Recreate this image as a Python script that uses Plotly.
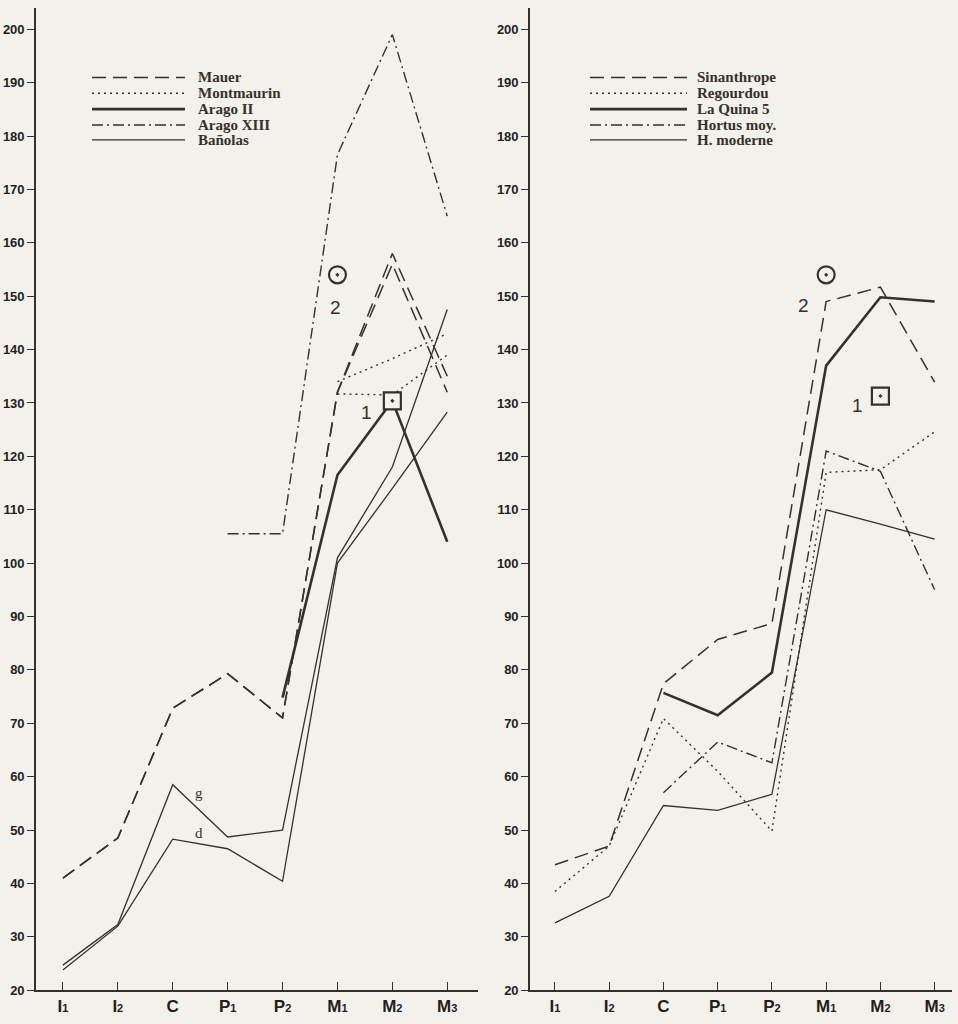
import plotly.graph_objects as go

# Tooth positions along the row
teeth = ["I1", "I2", "C", "P1", "P2", "M1", "M2", "M3"]
tooth_labels = ["I<span style='font-size:11px'>1</span>", "I<span style='font-size:11px'>2</span>",
                "C", "P<span style='font-size:11px'>1</span>", "P<span style='font-size:11px'>2</span>",
                "M<span style='font-size:11px'>1</span>", "M<span style='font-size:11px'>2</span>",
                "M<span style='font-size:11px'>3</span>"]
y_ticks = list(range(20, 201, 10))

# Left panel: Middle Pleistocene mandibles (g = left side, d = right side)
mauer_g = [41, 48.5, 72.8, 79.3, 71, 132, 158, 135]
mauer_d = [41, 48.5, 72.8, 79.3, 71, 132, 156, 132]
montmaurin_g = [None, None, None, None, None, 134, 138.3, 143]
montmaurin_d = [None, None, None, None, None, 131.7, 131.5, 139]
arago_ii = [None, None, None, None, 74.8, 116.5, 130.4, 104]
arago_xiii = [None, None, None, 105.5, 105.5, 176.5, 199, 165]
banolas_g = [24.7, 32.3, 58.5, 48.7, 50, 101, 118, 147.5]
banolas_d = [23.8, 32, 48.3, 46.5, 40.4, 100, 114, 128.3]

# Right panel
sinanthrope = [43.5, 47, 77.4, 85.7, 88.7, 149, 151.7, 133.9]
regourdou = [38.5, 47, 70.9, 61, 49.8, 117, 117.5, 124.6]
la_quina_5 = [None, None, 75.7, 71.5, 79.5, 137, 149.8, 149]
hortus_moy = [None, None, 57, 66.5, 62.6, 121, 117.2, 95]
h_moderne = [32.6, 37.6, 54.6, 53.7, 56.7, 110, 107.3, 104.5]

# Reference points 1 (square) and 2 (circle): tooth index, value
ref_left = {"1": (6, 130.4), "2": (5, 154)}
ref_right = {"1": (6, 131.3), "2": (5, 154)}

INK = "#35302d"
PAPER = "#f3f1eb"
W, H = 958, 1024

DASH = "14px,7px"
DOT = "2px,4px"
DASHDOT = "11px,4px,2px,4px"

styles = {
    "dash": dict(width=1.5, dash=DASH),
    "dot": dict(width=1.4, dash=DOT),
    "thick": dict(width=2.6, dash="solid"),
    "dashdot": dict(width=1.4, dash=DASHDOT),
    "thin": dict(width=1.3, dash="solid"),
}

left_series = [
    ("Mauer", mauer_g, "dash"), ("Mauer", mauer_d, "dash"),
    ("Montmaurin", montmaurin_g, "dot"), ("Montmaurin", montmaurin_d, "dot"),
    ("Arago II", arago_ii, "thick"),
    ("Arago XIII", arago_xiii, "dashdot"),
    ("Bañolas", banolas_g, "thin"), ("Bañolas", banolas_d, "thin"),
]
right_series = [
    ("Sinanthrope", sinanthrope, "dash"),
    ("Regourdou", regourdou, "dot"),
    ("La Quina 5", la_quina_5, "thick"),
    ("Hortus moy.", hortus_moy, "dashdot"),
    ("H. moderne", h_moderne, "thin"),
]

fig = go.Figure()
xs = list(range(len(teeth)))

for name, vals, st in left_series:
    fig.add_trace(go.Scatter(x=xs, y=vals, mode="lines", name=name, showlegend=False,
                             line=dict(color=INK, **styles[st]), xaxis="x", yaxis="y",
                             connectgaps=False))
for name, vals, st in right_series:
    fig.add_trace(go.Scatter(x=xs, y=vals, mode="lines", name=name, showlegend=False,
                             line=dict(color=INK, **styles[st]), xaxis="x2", yaxis="y2",
                             connectgaps=False))

# Reference point markers, with a paper-coloured fill to mask the lines below
for refs, xa, ya in ((ref_left, "x", "y"), (ref_right, "x2", "y2")):
    for key, sym in (("1", "square"), ("2", "circle")):
        px, py = refs[key]
        fig.add_trace(go.Scatter(x=[px], y=[py], mode="markers", showlegend=False,
                                 hoverinfo="skip", xaxis=xa, yaxis=ya,
                                 marker=dict(symbol=sym, size=17, color=PAPER,
                                             line=dict(width=0))))
        fig.add_trace(go.Scatter(x=[px], y=[py], mode="markers", showlegend=False,
                                 xaxis=xa, yaxis=ya,
                                 marker=dict(symbol=sym + "-open-dot", size=17, color=INK,
                                             line=dict(width=2.2, color=INK))))

annotations = []
num_font = dict(family="Liberation Sans, Arial, sans-serif", size=19, color=INK)
offsets = {
    "left": {"1": (-26, -12), "2": (-2, -33)},
    "right": {"1": (-23, -9), "2": (-23, -31)},
}
for side, refs, xa, ya in (("left", ref_left, "x", "y"), ("right", ref_right, "x2", "y2")):
    for key in ("1", "2"):
        px, py = refs[key]
        dx, dy = offsets[side][key]
        annotations.append(dict(x=px, y=py, xref=xa, yref=ya, text=key, showarrow=False,
                                xshift=dx, yshift=dy, font=num_font))

# g / d side labels on the Bañolas curves
side_font = dict(family="Liberation Serif, serif", size=15, color=INK)
annotations.append(dict(x=2.47, y=57, xref="x", yref="y", text="g", showarrow=False, font=side_font))
annotations.append(dict(x=2.47, y=49.5, xref="x", yref="y", text="d", showarrow=False, font=side_font))

# Legends drawn as line samples with labels
shapes = []
leg_font = dict(family="Liberation Serif, Times New Roman, serif", size=15, color=INK, weight="bold")
legend_rows_y = [78, 94, 110, 126, 141]


def add_legend(x0, x1, xt, entries):
    for (label, st), py in zip(entries, legend_rows_y):
        s = styles[st]
        shapes.append(dict(type="line", xref="paper", yref="paper",
                           x0=x0 / W, x1=x1 / W, y0=1 - py / H, y1=1 - py / H,
                           line=dict(color=INK, width=s["width"], dash=s["dash"])))
        annotations.append(dict(x=xt / W, y=1 - py / H, xref="paper", yref="paper",
                                text=label, showarrow=False, xanchor="left", yanchor="middle",
                                font=leg_font))


add_legend(92, 185, 196, [("Mauer", "dash"), ("Montmaurin", "dot"), ("Arago II", "thick"),
                          ("Arago XIII", "dashdot"), ("Bañolas", "thin")])
add_legend(590, 687, 695, [("Sinanthrope", "dash"), ("Regourdou", "dot"), ("La Quina 5", "thick"),
                           ("Hortus moy.", "dashdot"), ("H. moderne", "thin")])

ydom = [26 / H, 1 - 8 / H]
yaxis_common = dict(range=[20, 204], tickvals=y_ticks, ticks="outside", ticklen=7, tickwidth=1.4,
                    tickcolor=INK, showline=True, linecolor=INK, linewidth=1.6, showgrid=False,
                    zeroline=False, domain=ydom, ticklabelstandoff=0,
                    tickfont=dict(family="Liberation Sans, Arial, sans-serif", size=13,
                                  color="#221e1c", weight="bold"))
xaxis_common = dict(tickvals=xs, ticktext=tooth_labels, ticks="inside", ticklen=8, tickwidth=1.3,
                    tickcolor=INK, showline=True, linecolor=INK, linewidth=1.6, showgrid=False,
                    zeroline=False,
                    tickfont=dict(family="Liberation Sans, Arial, sans-serif", size=17,
                                  color="#221e1c", weight="bold"))

fig.update_layout(
    width=W, height=H, margin=dict(l=0, r=0, t=0, b=0),
    paper_bgcolor=PAPER, plot_bgcolor=PAPER,
    xaxis=dict(xaxis_common, domain=[36 / W, 478 / W], range=[-0.49, 7.56], anchor="y"),
    yaxis=dict(yaxis_common, anchor="x"),
    xaxis2=dict(xaxis_common, domain=[530 / W, 952 / W], range=[-0.46, 7.32], anchor="y2"),
    yaxis2=dict(yaxis_common, anchor="x2"),
    annotations=annotations, shapes=shapes,
)

fig.write_html("out.html")
